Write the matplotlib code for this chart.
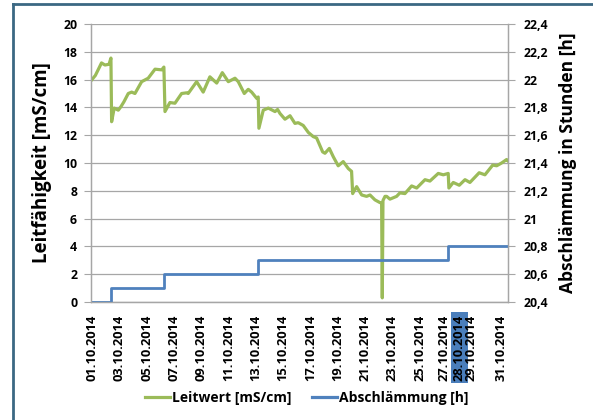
import matplotlib
matplotlib.use("Agg")
import matplotlib.pyplot as plt
from matplotlib.lines import Line2D
import numpy as np

plt.rcParams['font.family'] = ['Open Sans', 'DejaVu Sans']
plt.rcParams['font.weight'] = 'bold'

# Leitwert (day offset from 01.10.2014, value mS/cm)
leit_days = [0.0, 0.25, 0.7, 0.95, 1.25, 1.39, 1.44, 1.63, 1.93, 2.12, 2.34, 2.66, 2.91, 3.15,
             3.64, 4.12, 4.62, 5.11, 5.27, 5.35, 5.71, 6.08, 6.57, 6.94, 7.05, 7.67, 8.15,
             8.64, 9.14, 9.55, 9.99, 10.48, 10.72, 11.16, 11.45, 11.70, 12.07, 12.18, 12.23,
             12.55, 12.92, 13.41, 13.60, 13.77, 14.14, 14.51, 14.87, 15.11, 15.48, 15.85,
             16.21, 16.46, 16.90, 17.07, 17.39, 17.68, 18.04, 18.41, 18.78, 19.02, 19.10,
             19.39, 19.76, 20.12, 20.37, 20.73, 21.10, 21.22, 21.27, 21.32, 21.47, 21.59,
             21.83, 22.32, 22.56, 22.93, 23.42, 23.79, 24.40, 24.76, 25.37, 25.74, 26.10,
             26.15, 26.47, 26.91, 27.33, 27.69, 28.37, 28.79, 29.36, 29.65, 30.01, 30.38, 30.48]
leit_vals = [16.0, 16.3, 17.2, 17.05, 17.1, 17.55, 12.97, 13.95, 13.8, 14.05, 14.4, 15.0, 15.1, 15.0,
             15.85, 16.1, 16.75, 16.7, 16.9, 13.7, 14.35, 14.3, 15.0, 15.05, 15.0, 15.85, 15.1,
             16.2, 15.75, 16.5, 15.85, 16.1, 15.85, 15.0, 15.3, 15.1, 14.65, 14.75, 12.5,
             13.8, 13.95, 13.7, 13.85, 13.57, 13.15, 13.4, 12.85, 12.9, 12.7, 12.2,
             11.9, 11.8, 10.8, 10.7, 11.05, 10.45, 9.8, 10.1, 9.6, 9.4, 7.8,
             8.3, 7.7, 7.6, 7.7, 7.35, 7.15, 7.15, 0.3, 7.3, 7.6, 7.6,
             7.4, 7.6, 7.85, 7.8, 8.35, 8.2, 8.8, 8.7, 9.25, 9.15, 9.25,
             8.2, 8.6, 8.4, 8.8, 8.6, 9.3, 9.15, 9.85, 9.8, 10.0, 10.25, 10.15]

# Abschlämmung (hours, right axis)
absch_days = [0.0, 1.42, 5.3, 12.2, 26.1, 30.48]
absch_vals = [20.4, 20.5, 20.6, 20.7, 20.8, 20.8]

tick_days = [0, 2, 4, 6, 8, 10, 12, 14, 16, 18, 20, 22, 24, 25.8, 26.9, 27.75, 30]
tick_labels = ['01.10.2014', '03.10.2014', '05.10.2014', '07.10.2014', '09.10.2014',
               '11.10.2014', '13.10.2014', '15.10.2014', '17.10.2014', '19.10.2014',
               '21.10.2014', '23.10.2014', '25.10.2014', '27.10.2014', '28.10.2014',
               '29.10.2014', '31.10.2014']
right_ticks = [20.4, 20.6, 20.8, 21.0, 21.2, 21.4, 21.6, 21.8, 22.0, 22.2, 22.4]
right_labels = ['20,4', '20,6', '20,8', '21', '21,2', '21,4', '21,6', '21,8', '22', '22,2', '22,4']

green = '#9bbb59'
blue = '#4f81bd'
gridc = '#a6a6a6'

fig = plt.figure(figsize=(5.93, 4.20), dpi=100)
ax = fig.add_axes([91/593, (420-302)/420, (508-91)/593, (302-24)/420])
ax2 = ax.twinx()

ax.plot(leit_days, leit_vals, color=green, lw=2.3, solid_joinstyle='round', zorder=3)
ax2.plot(absch_days, absch_vals, color=blue, lw=2.0, drawstyle='steps-post', zorder=2)

ax.set_xlim(-0.07, 30.48)
ax.set_ylim(0, 20)
ax2.set_ylim(20.4, 22.4)
ax.set_yticks(np.arange(0, 21, 2))
ax2.set_yticks(right_ticks)
ax2.set_yticklabels(right_labels)

ax.set_xticks(tick_days)
ax.set_xticklabels(tick_labels, rotation=90, fontsize=9.3, fontweight='bold')
for lbl in ax.get_xticklabels():
    if lbl.get_text() == '28.10.2014':
        lbl.set_bbox(dict(facecolor='#4a7ebb', edgecolor='none', pad=1.5))
ax.tick_params(axis='x', length=0, pad=9)
ax.tick_params(axis='y', length=5, width=0.8, color=gridc, labelsize=8.8, pad=5)
ax2.tick_params(axis='y', length=5, width=0.8, color=gridc, labelsize=8.8, pad=6)
for t in ax.get_yticklabels() + ax2.get_yticklabels():
    t.set_fontweight('bold')

ax.grid(axis='y', color=gridc, lw=0.9)
ax.set_axisbelow(True)
for a in (ax, ax2):
    a.spines['top'].set_visible(False)
    for s in ('left', 'right', 'bottom'):
        a.spines[s].set_color(gridc)
        a.spines[s].set_linewidth(0.9)

ax.set_ylabel('Leitfähigkeit [mS/cm]', fontsize=13.5, fontweight='bold', labelpad=8)
ax2.set_ylabel('Abschlämmung in Stunden [h]', fontsize=12.5, fontweight='bold', labelpad=8)

handles = [Line2D([], [], color=green, lw=2.3), Line2D([], [], color=blue, lw=2.3)]
fig.legend(handles, ['Leitwert [mS/cm]', 'Abschlämmung [h]'], loc='center',
           bbox_to_anchor=(307/593, 1 - 398/420), ncol=2, frameon=False,
           prop={'weight': 'bold', 'size': 10}, handlelength=1.8, handletextpad=0.15,
           columnspacing=1.5)

# outer frame lines (top and left)
fig.add_artist(Line2D([13/593, 1], [1 - 4/420, 1 - 4/420], color='#3b6883', lw=2,
                      transform=fig.transFigure))
fig.add_artist(Line2D([13/593, 13/593], [0, 1 - 4/420], color='#3b6883', lw=2,
                      transform=fig.transFigure))

fig.savefig('out.png', dpi=100)
